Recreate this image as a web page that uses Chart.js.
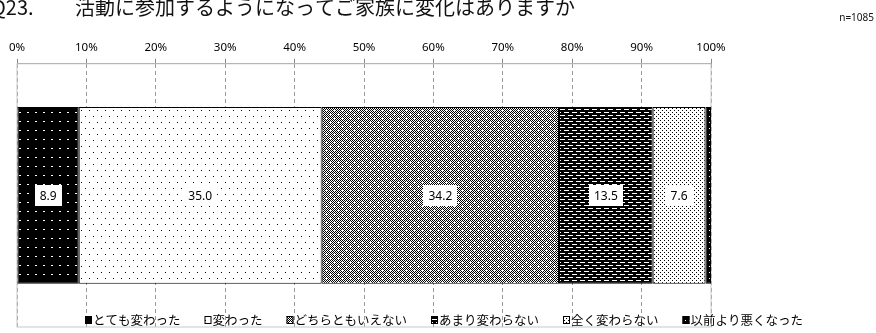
<!DOCTYPE html>
<html>
<head>
<meta charset="utf-8">
<script src="https://cdn.jsdelivr.net/npm/chart.js@4"></script>
<style>
  html, body { margin: 0; padding: 0; background: #fff; }
  #wrap { width: 876px; height: 333px; }
</style>
</head>
<body>
<div id="wrap"><canvas id="grafico" width="876" height="333"></canvas></div>
<script>
// Dados
const categorias = ['Q23'];
const rotulosSeries = ['とても変わった', '変わった', 'どちらともいえない', 'あまり変わらない', '全く変わらない', '以前より悪くなった'];
const valores = [8.9, 35.0, 34.2, 13.5, 7.6, 0.8];
const tituloQ = 'Q23.';
const tituloTexto = '活動に参加するようになってご家族に変化はありますか';
const amostra = 'n=1085';

const fonteJP = '"Noto Sans CJK JP", "Noto Sans", sans-serif';
const fonteNum = '"Noto Sans", "Liberation Sans", sans-serif';

// Cria um padrão (hachura) a partir de um pequeno canvas
function criarPadrao(w, h, fundo, tinta, pontos) {
  const c = document.createElement('canvas');
  c.width = w; c.height = h;
  const g = c.getContext('2d');
  g.fillStyle = fundo;
  g.fillRect(0, 0, w, h);
  g.fillStyle = tinta;
  pontos.forEach(p => g.fillRect(p[0], p[1], p[2] || 1, p[3] || 1));
  return g.createPattern(c, 'repeat');
}

function xadrez(w, h) {
  const pts = [];
  for (let y = 0; y < h; y++) {
    for (let x = 0; x < w; x++) {
      if ((x + y) % 2 === 0) pts.push([x, y]);
    }
  }
  return pts;
}

const ctxBase = document.getElementById('grafico').getContext('2d');

// padrão 3: xadrez cinza com pontos brancos
function padraoCinza() {
  const c = document.createElement('canvas');
  c.width = 8; c.height = 8;
  const g = c.getContext('2d');
  g.fillStyle = '#fff';
  g.fillRect(0, 0, 8, 8);
  g.fillStyle = '#000';
  xadrez(8, 8).forEach(p => g.fillRect(p[0], p[1], 1, 1));
  g.fillStyle = '#fff';
  g.fillRect(2, 2, 2, 1);
  g.fillRect(6, 6, 2, 1);
  return g.createPattern(c, 'repeat');
}

const padroes = [
  criarPadrao(8, 9, '#000', '#fff', [[3, 4, 2, 1]]),
  criarPadrao(8, 12, '#fff', '#000', [[1, 2], [5, 8]]),
  padraoCinza(),
  criarPadrao(8, 6, '#000', '#fff', [[0, 1, 5, 1], [4, 4, 5, 1], [0, 4, 1, 1]]),
  criarPadrao(4, 4, '#fff', '#000', [[0, 0], [2, 2]]),
  criarPadrao(4, 6, '#000', '#fff', [[1, 2]])
];

// Plugin: fundo, moldura, título, rótulos de dados e legenda dentro da área
const pluginDesenho = {
  id: 'desenho',
  beforeDraw(chart) {
    const { ctx, width, height } = chart;
    ctx.save();
    ctx.fillStyle = '#fff';
    ctx.fillRect(0, 0, width, height);
    ctx.restore();
  },
  beforeDatasetsDraw(chart) {
    const { ctx, chartArea: a } = chart;
    ctx.save();
    ctx.strokeStyle = '#c8c8c8';
    ctx.lineWidth = 1;
    ctx.strokeRect(a.left, a.top, a.right - a.left, a.bottom - a.top);
    ctx.restore();
  },
  afterDatasetsDraw(chart) {
    const { ctx } = chart;
    ctx.save();
    ctx.font = '12px ' + fonteNum;
    ctx.textAlign = 'center';
    ctx.textBaseline = 'middle';
    chart.data.datasets.forEach((ds, i) => {
      const v = ds.data[0];
      if (v < 1) return;
      const el = chart.getDatasetMeta(i).data[0];
      const cx = (el.x + el.base) / 2;
      const cy = el.y;
      const txt = v.toFixed(1);
      const tw = ctx.measureText(txt).width;
      ctx.fillStyle = '#fff';
      ctx.fillRect(Math.round(cx - tw / 2 - 5), Math.round(cy - 10), Math.round(tw + 10), 21);
      ctx.fillStyle = '#000';
      ctx.fillText(txt, cx, cy + 1);
    });

    // legenda
    const a = chart.chartArea;
    const ly = a.bottom - 7;
    let lx = 85;
    ctx.font = '12.5px ' + fonteJP;
    ctx.textAlign = 'left';
    ctx.textBaseline = 'middle';
    chart.data.datasets.forEach((ds, i) => {
      ctx.fillStyle = padroes[i];
      ctx.fillRect(lx, ly - 4, 7, 8);
      ctx.strokeStyle = '#000';
      ctx.lineWidth = 1;
      ctx.strokeRect(lx + 0.5, ly - 3.5, 6, 7);
      ctx.fillStyle = '#000';
      ctx.fillText(ds.label, lx + 8, ly);
      lx += 8 + ctx.measureText(ds.label).width + 24;
    });
    ctx.restore();
  },
  afterDraw(chart) {
    const { ctx, width } = chart;
    ctx.save();
    ctx.fillStyle = '#111';
    ctx.textBaseline = 'alphabetic';
    ctx.font = '20px ' + fonteJP;
    ctx.textAlign = 'left';
    ctx.fillText(tituloQ, -9, 15);
    ctx.fillText(tituloTexto, 75, 15);
    ctx.font = '10px ' + fonteNum;
    ctx.textAlign = 'right';
    ctx.fillText(amostra, width - 2, 21);
    ctx.restore();
  }
};

const conjuntos = rotulosSeries.map((rotulo, i) => ({
  label: rotulo,
  data: [valores[i]],
  backgroundColor: padroes[i],
  borderColor: '#000',
  borderWidth: 1,
  borderSkipped: false,
  barPercentage: 0.672,
  categoryPercentage: 1
}));

new Chart(ctxBase, {
  type: 'bar',
  data: { labels: categorias, datasets: conjuntos },
  options: {
    indexAxis: 'y',
    responsive: false,
    animation: false,
    layout: { padding: { left: 17, right: 165, top: 37, bottom: 6 } },
    scales: {
      x: {
        position: 'top',
        stacked: true,
        min: 0,
        max: 100,
        ticks: {
          stepSize: 10,
          padding: 4,
          color: '#000',
          font: { size: 11.5, family: fonteNum },
          callback: v => v + '%'
        },
        grid: { color: '#999', tickLength: 5, tickColor: '#888' },
        border: { display: true, color: '#888', width: 1, dash: [4, 3] }
      },
      y: {
        stacked: true,
        display: false
      }
    },
    plugins: {
      legend: { display: false },
      tooltip: { enabled: false }
    }
  },
  plugins: [pluginDesenho]
});
</script>
</body>
</html>
